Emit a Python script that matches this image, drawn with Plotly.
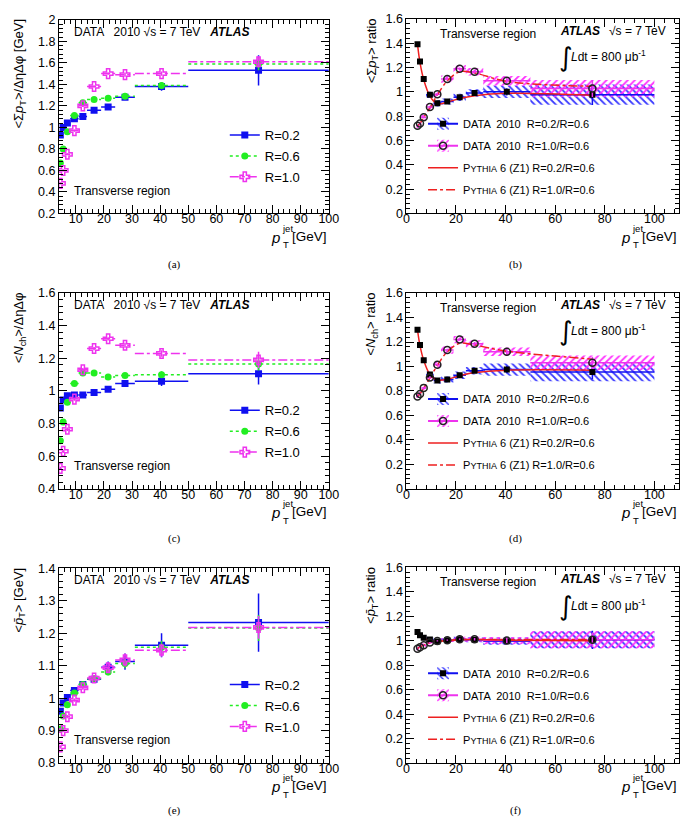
import plotly.graph_objects as go

W, H = 699, 833

# ---------------- data ----------------
BIN_EDGES = [4, 5, 6, 8, 11, 14, 19, 24, 31, 50, 100]
PT = [4.5, 5.5, 7, 9.5, 12.5, 16.5, 21.5, 27.5, 40.5, 75]

# (a) <sum pT>/deta dphi [GeV]
SUMPT_R02 = [0.93, 1.00, 1.04, 1.08, 1.10, 1.16, 1.19, 1.28, 1.38, 1.53]
SUMPT_R02_ERR = [0.01, 0.01, 0.01, 0.01, 0.01, 0.015, 0.02, 0.02, 0.04, 0.14]
SUMPT_R06 = [0.67, 0.80, 0.96, 1.11, 1.23, 1.26, 1.27, 1.29, 1.39, 1.59]
SUMPT_R06_ERR = [0.01, 0.01, 0.01, 0.01, 0.01, 0.01, 0.01, 0.02, 0.03, 0.06]
SUMPT_R10 = [0.48, 0.60, 0.75, 0.97, 1.20, 1.38, 1.50, 1.49, 1.50, 1.61]
SUMPT_R10_ERR = [0.01, 0.01, 0.01, 0.01, 0.01, 0.01, 0.01, 0.02, 0.02, 0.05]

# (c) <Nch>/deta dphi
NCH_R02 = [0.895, 0.945, 0.97, 0.975, 0.975, 0.99, 1.01, 1.045, 1.06, 1.105]
NCH_R02_ERR = [0.01, 0.01, 0.01, 0.01, 0.01, 0.01, 0.01, 0.02, 0.03, 0.065]
NCH_R06 = [0.695, 0.81, 0.93, 1.045, 1.11, 1.11, 1.085, 1.095, 1.10, 1.165]
NCH_R06_ERR = [0.01, 0.01, 0.01, 0.01, 0.01, 0.01, 0.01, 0.015, 0.02, 0.04]
NCH_R10 = [0.525, 0.63, 0.765, 0.95, 1.13, 1.26, 1.32, 1.28, 1.23, 1.19]
NCH_R10_ERR = [0.01, 0.01, 0.01, 0.01, 0.01, 0.01, 0.01, 0.015, 0.02, 0.05]

# (e) <mean pT> [GeV]
MPT_R02 = [0.96, 0.985, 1.002, 1.024, 1.042, 1.058, 1.095, 1.113, 1.163, 1.233]
MPT_R02_ERR = [0.005, 0.005, 0.005, 0.006, 0.006, 0.008, 0.018, 0.025, 0.037, 0.09]
MPT_R06 = [0.905, 0.945, 0.98, 1.016, 1.042, 1.06, 1.081, 1.107, 1.157, 1.216]
MPT_R06_ERR = [0.005, 0.005, 0.005, 0.005, 0.005, 0.006, 0.01, 0.015, 0.02, 0.04]
MPT_R10 = [0.85, 0.90, 0.943, 0.994, 1.032, 1.062, 1.094, 1.118, 1.148, 1.218]
MPT_R10_ERR = [0.005, 0.005, 0.005, 0.005, 0.006, 0.008, 0.015, 0.02, 0.02, 0.035]

# (b) <sum pT> ratios
RSUM_02 = [1.39, 1.25, 1.105, 0.975, 0.905, 0.92, 0.955, 0.99, 1.0, 0.976]
RSUM_02_STAT = [0.01, 0.01, 0.01, 0.01, 0.01, 0.01, 0.01, 0.015, 0.03, 0.085]
RSUM_02_SYST = [0.02, 0.02, 0.02, 0.025, 0.025, 0.025, 0.03, 0.03, 0.05, 0.083]
RSUM_10 = [0.72, 0.74, 0.79, 0.875, 0.98, 1.105, 1.19, 1.165, 1.09, 1.027]
RSUM_10_STAT = [0.01, 0.01, 0.01, 0.01, 0.01, 0.01, 0.01, 0.015, 0.03, 0.07]
RSUM_10_SYST = [0.02, 0.02, 0.02, 0.025, 0.025, 0.03, 0.03, 0.03, 0.04, 0.07]
PY_SUM_02 = [1.39, 1.24, 1.10, 0.965, 0.90, 0.915, 0.945, 0.968, 0.988, 0.972]
PY_SUM_10 = [0.72, 0.74, 0.79, 0.87, 0.975, 1.09, 1.165, 1.155, 1.085, 1.045]

# (d) <Nch> ratios
RNCH_02 = [1.30, 1.175, 1.05, 0.935, 0.885, 0.893, 0.928, 0.965, 0.975, 0.955]
RNCH_02_STAT = [0.01, 0.01, 0.01, 0.01, 0.01, 0.01, 0.01, 0.015, 0.03, 0.06]
RNCH_02_SYST = [0.02, 0.02, 0.02, 0.025, 0.025, 0.025, 0.03, 0.03, 0.05, 0.075]
RNCH_10 = [0.755, 0.775, 0.825, 0.91, 1.015, 1.135, 1.22, 1.185, 1.12, 1.03]
RNCH_10_STAT = [0.01, 0.01, 0.01, 0.01, 0.01, 0.01, 0.01, 0.015, 0.03, 0.05]
RNCH_10_SYST = [0.02, 0.02, 0.02, 0.025, 0.025, 0.03, 0.03, 0.03, 0.035, 0.06]
PY_NCH_02 = [1.30, 1.17, 1.05, 0.935, 0.89, 0.895, 0.925, 0.95, 0.97, 0.97]
PY_NCH_10 = [0.755, 0.775, 0.825, 0.905, 1.01, 1.12, 1.19, 1.175, 1.125, 1.06]

# (f) <mean pT> ratios
RMPT_02 = [1.072, 1.045, 1.024, 1.01, 0.995, 1.005, 1.013, 1.008, 0.997, 1.008]
RMPT_02_STAT = [0.005, 0.005, 0.005, 0.005, 0.005, 0.005, 0.005, 0.01, 0.02, 0.075]
RMPT_02_SYST = [0.015, 0.015, 0.015, 0.015, 0.015, 0.015, 0.02, 0.02, 0.03, 0.07]
RMPT_10 = [0.935, 0.948, 0.964, 0.986, 0.999, 1.005, 1.013, 1.013, 1.002, 1.008]
RMPT_10_STAT = [0.005, 0.005, 0.005, 0.005, 0.005, 0.005, 0.005, 0.01, 0.02, 0.06]
RMPT_10_SYST = [0.015, 0.015, 0.015, 0.015, 0.015, 0.015, 0.02, 0.02, 0.03, 0.07]
PY_MPT_02 = [1.07, 1.045, 1.022, 1.005, 0.995, 1.0, 1.008, 1.01, 1.005, 1.0]
PY_MPT_10 = [0.935, 0.95, 0.965, 0.985, 0.995, 1.005, 1.01, 1.012, 1.01, 1.01]

LEFT_YTITLES = ["&lt;Σ<i>p</i><sub>T</sub>&gt;/ΔηΔφ [GeV]",
                "&lt;<i>N</i><sub>ch</sub>&gt;/ΔηΔφ",
                "&lt;<i>p̄</i><sub>T</sub>&gt; [GeV]"]
RIGHT_YTITLES = ["&lt;Σ<i>p</i><sub>T</sub>&gt; ratio",
                 "&lt;<i>N</i><sub>ch</sub>&gt; ratio",
                 "&lt;<i>p̄</i><sub>T</sub>&gt; ratio"]
LEFT_YRANGES = [[0.2, 2.0], [0.4, 1.6], [0.8, 1.4]]
LEFT_YDTICK = [0.2, 0.2, 0.1]
LEFT_YMINOR = [0.04, 0.04, 0.02]
CAPTIONS = ["(a)", "(b)", "(c)", "(d)", "(e)", "(f)"]

# ---------------- style ----------------
BLUE = "#1010f0"
GREEN = "#22ee22"
MAGENTA = "#ee33ee"
RED = "#ee2020"
BAND_BLUE = "#3a3aff"
BAND_MAG = "#ff30ff"
FONT = "Liberation Sans"

# panel plot-area boxes in pixels: (left, right, top, bottom)
BOXES = [(57, 332, 13, 210), (411, 689, 12, 210),
         (57, 332, 291, 490), (411, 689, 291, 490),
         (57, 332, 571, 769), (411, 689, 570, 769)]


def fx(px):
    return px / W


def fy(py):
    return 1 - py / H


def segs(vals):
    xs, ys = [], []
    for lo, hi, v in zip(BIN_EDGES[:-1], BIN_EDGES[1:], vals):
        xs += [lo, hi, None]
        ys += [v, v, None]
    return xs, ys


fig = go.Figure()
annotations = []
layout = {}

axis_common = dict(showline=True, linecolor="black", linewidth=1, mirror="allticks",
                   ticks="inside", ticklen=8, tickwidth=1, tickcolor="black",
                   showgrid=False, zeroline=False,
                   tickfont=dict(family=FONT, size=12.5, color="black"))


def add_xtitle(right_px, cy):
    annotations.append(dict(x=fx(right_px), y=fy(cy), xref="paper", yref="paper",
                            text="[GeV]", showarrow=False, xanchor="right", yanchor="middle",
                            font=dict(family=FONT, size=13.5, color="black")))
    annotations.append(dict(x=fx(right_px - 48), y=fy(cy + 1), xref="paper", yref="paper",
                            text="<i>p</i>", showarrow=False, xanchor="right", yanchor="middle",
                            font=dict(family=FONT, size=15, color="black")))
    annotations.append(dict(x=fx(right_px - 50), y=fy(cy - 8), xref="paper", yref="paper",
                            text="jet", showarrow=False, xanchor="left", yanchor="middle",
                            font=dict(family=FONT, size=9.5, color="black")))
    annotations.append(dict(x=fx(right_px - 49), y=fy(cy + 9), xref="paper", yref="paper",
                            text="T", showarrow=False, xanchor="left", yanchor="middle",
                            font=dict(family=FONT, size=9.5, color="black")))


def txt(x, y, text, size=12, xanchor="left", yanchor="middle", family=FONT):
    annotations.append(dict(x=fx(x), y=fy(y), xref="paper", yref="paper", text=text,
                            showarrow=False, xanchor=xanchor, yanchor=yanchor,
                            font=dict(family=family, size=size, color="black")))


# ---------- left panels: absolute observables ----------
left_data = [
    (SUMPT_R02, SUMPT_R02_ERR, SUMPT_R06, SUMPT_R06_ERR, SUMPT_R10, SUMPT_R10_ERR),
    (NCH_R02, NCH_R02_ERR, NCH_R06, NCH_R06_ERR, NCH_R10, NCH_R10_ERR),
    (MPT_R02, MPT_R02_ERR, MPT_R06, MPT_R06_ERR, MPT_R10, MPT_R10_ERR),
]
left_style = [
    ("R=0.2", BLUE, "solid", dict(symbol="square", size=7, color=BLUE)),
    ("R=0.6", GREEN, "dot", dict(symbol="circle", size=7, color=GREEN)),
    ("R=1.0", MAGENTA, "dashdot", dict(symbol="cross-open", size=8, color=MAGENTA,
                                        line=dict(color=MAGENTA, width=1.5))),
]

for i, dat in enumerate(left_data):
    pidx = 2 * i + 1
    xa = "x" if pidx == 1 else f"x{pidx}"
    ya = "y" if pidx == 1 else f"y{pidx}"
    leg = "legend" if i == 0 else f"legend{i + 1}"
    l, r, t, b = BOXES[pidx - 1]
    for k, (name, col, dash, mk) in enumerate(left_style):
        vals, errs = dat[2 * k], dat[2 * k + 1]
        sx, sy = segs(vals)
        fig.add_trace(go.Scatter(x=sx, y=sy, mode="lines", line=dict(color=col, width=1.5, dash=dash),
                                 xaxis=xa, yaxis=ya, showlegend=False, hoverinfo="skip"))
        fig.add_trace(go.Scatter(x=PT, y=vals, mode="markers", marker=mk,
                                 error_y=dict(type="data", array=errs, color=col, thickness=1.5, width=0),
                                 xaxis=xa, yaxis=ya, showlegend=False))
        fig.add_trace(go.Scatter(x=[None], y=[None], mode="lines+markers", name=name,
                                 line=dict(color=col, width=1.5, dash=dash), marker=mk,
                                 xaxis=xa, yaxis=ya, legend=leg, legendgroup=f"L{i}{k}"))
    ax_key = "xaxis" if pidx == 1 else f"xaxis{pidx}"
    ay_key = "yaxis" if pidx == 1 else f"yaxis{pidx}"
    layout[ax_key] = dict(axis_common, domain=[fx(l), fx(r)], anchor=ya, range=[4, 100],
                          tick0=0, dtick=10, ticklabelstandoff=-6,
                          minor=dict(ticks="inside", ticklen=4, tickcolor="black", dtick=2, showgrid=False))
    layout[ay_key] = dict(axis_common, domain=[fy(b), fy(t)], anchor=xa, range=LEFT_YRANGES[i],
                          tick0=0, dtick=LEFT_YDTICK[i],
                          minor=dict(ticks="inside", ticklen=4, tickcolor="black",
                                     dtick=LEFT_YMINOR[i], showgrid=False))
    layout[leg] = dict(x=fx(226), y=fy(b - 95), xanchor="left", yanchor="top",
                       bgcolor="rgba(0,0,0,0)", borderwidth=0, traceorder="grouped",
                       tracegroupgap=1, font=dict(family=FONT, size=13, color="black"))
    txt(70, t + 12, "DATA   2010 √s = 7 TeV   <b><i>ATLAS</i></b>")
    txt(70, b - 23, "Transverse region")
    annotations.append(dict(x=fx(17), y=fy(t - 3), xref="paper", yref="paper",
                            text=LEFT_YTITLES[i], textangle=-90, showarrow=False,
                            xanchor="center", yanchor="top",
                            font=dict(family=FONT, size=13, color="black")))
    add_xtitle(r, b + 23)

# ---------- right panels: ratios ----------
right_data = [
    (RSUM_02, RSUM_02_STAT, RSUM_02_SYST, RSUM_10, RSUM_10_STAT, RSUM_10_SYST, PY_SUM_02, PY_SUM_10),
    (RNCH_02, RNCH_02_STAT, RNCH_02_SYST, RNCH_10, RNCH_10_STAT, RNCH_10_SYST, PY_NCH_02, PY_NCH_10),
    (RMPT_02, RMPT_02_STAT, RMPT_02_SYST, RMPT_10, RMPT_10_STAT, RMPT_10_SYST, PY_MPT_02, PY_MPT_10),
]
centers = [(lo + hi) / 2 for lo, hi in zip(BIN_EDGES[:-1], BIN_EDGES[1:])]
widths = [hi - lo for lo, hi in zip(BIN_EDGES[:-1], BIN_EDGES[1:])]
PYNAME = "P<span style='font-size:9px'>YTHIA</span> 6 (Z1) "

for i, dat in enumerate(right_data):
    pidx = 2 * i + 2
    xa, ya = f"x{pidx}", f"y{pidx}"
    legA, legB = f"legend{4 + 2 * i}", f"legend{5 + 2 * i}"
    l, r, t, b = BOXES[pidx - 1]
    r02, s02, y02, r10, s10, y10, p02, p10 = dat
    series = [
        (r02, s02, y02, BAND_BLUE, BLUE, "\\", dict(symbol="square", size=6, color="black"),
         "DATA  2010  R=0.2/R=0.6"),
        (r10, s10, y10, BAND_MAG, MAGENTA, "/", dict(symbol="circle-open", size=7, color="#222222",
                                                      line=dict(color="#222222", width=1.5)),
         "DATA  2010  R=1.0/R=0.6"),
    ]
    # systematic bands first
    for k, (vals, st, sy_, bcol, lcol, shp, mk, name) in enumerate(series):
        fig.add_trace(go.Bar(x=centers, y=[2 * s for s in sy_], base=[v - s for v, s in zip(vals, sy_)],
                             width=widths, name=" ",
                             marker=dict(color="rgba(0,0,0,0)", line=dict(width=0),
                                         pattern=dict(shape=shp, fgcolor=bcol, bgcolor="rgba(0,0,0,0)",
                                                      size=5, solidity=0.35, fillmode="replace")),
                             xaxis=xa, yaxis=ya, legend=legB, legendgroup=f"B{i}{k}", hoverinfo="skip"))
    for k, (vals, st, sy_, bcol, lcol, shp, mk, name) in enumerate(series):
        sx, syy = segs(vals)
        fig.add_trace(go.Scatter(x=sx, y=syy, mode="lines", line=dict(color=lcol, width=1.5),
                                 xaxis=xa, yaxis=ya, showlegend=False, hoverinfo="skip"))
    # pythia curves
    fig.add_trace(go.Scatter(x=PT, y=p02, mode="lines", line=dict(color=RED, width=1.5, shape="spline"),
                             xaxis=xa, yaxis=ya, showlegend=False))
    fig.add_trace(go.Scatter(x=PT, y=p10, mode="lines",
                             line=dict(color=RED, width=1.5, shape="spline", dash="dashdot"),
                             xaxis=xa, yaxis=ya, showlegend=False))
    for k, (vals, st, sy_, bcol, lcol, shp, mk, name) in enumerate(series):
        fig.add_trace(go.Scatter(x=PT, y=vals, mode="markers", marker=mk,
                                 error_y=dict(type="data", array=st, color=lcol, thickness=1.5, width=0),
                                 xaxis=xa, yaxis=ya, showlegend=False))
    # legend entries
    for k, (vals, st, sy_, bcol, lcol, shp, mk, name) in enumerate(series):
        fig.add_trace(go.Scatter(x=[None], y=[None], mode="lines+markers", name=name,
                                 line=dict(color=lcol, width=2), marker=mk,
                                 xaxis=xa, yaxis=ya, legend=legA, legendgroup=f"A{i}{k}"))
    fig.add_trace(go.Scatter(x=[None], y=[None], mode="lines", name=PYNAME + "R=0.2/R=0.6",
                             line=dict(color=RED, width=1.5), xaxis=xa, yaxis=ya,
                             legend=legA, legendgroup=f"A{i}2"))
    fig.add_trace(go.Scatter(x=[None], y=[None], mode="lines", name=PYNAME + "R=1.0/R=0.6",
                             line=dict(color=RED, width=1.5, dash="dashdot"), xaxis=xa, yaxis=ya,
                             legend=legA, legendgroup=f"A{i}3"))
    layout[f"xaxis{pidx}"] = dict(axis_common, domain=[fx(l), fx(r)], anchor=ya, range=[0, 110],
                                  tick0=0, dtick=20, ticklabelstandoff=-6,
                                  minor=dict(ticks="inside", ticklen=4, tickcolor="black", dtick=4,
                                             showgrid=False))
    layout[f"yaxis{pidx}"] = dict(axis_common, domain=[fy(b), fy(t)], anchor=xa, range=[0, 1.6],
                                  tick0=0, dtick=0.2,
                                  minor=dict(ticks="inside", ticklen=4, tickcolor="black", dtick=0.04,
                                             showgrid=False))
    for lg in (legA, legB):
        layout[lg] = dict(x=fx(428), y=fy(b - 106), xanchor="left", yanchor="top",
                          bgcolor="rgba(0,0,0,0)", borderwidth=0, traceorder="grouped",
                          tracegroupgap=3, font=dict(family=FONT, size=11, color="black"))
    txt(443, t + 15, "Transverse region")
    txt(566, t + 12, "<b><i>ATLAS</i></b>")
    txt(615, t + 12, "√s = 7 TeV")
    txt(565, t + 39, "∫", size=26, family="DejaVu Sans")
    txt(577, t + 38, "<i>L</i>dt = 800 μb<sup>-1</sup>")
    annotations.append(dict(x=fx(376), y=fy(t - 2), xref="paper", yref="paper",
                            text=RIGHT_YTITLES[i], textangle=-90, showarrow=False,
                            xanchor="center", yanchor="top",
                            font=dict(family=FONT, size=13, color="black")))
    add_xtitle(r, b + 23)

# captions
for j, cap in enumerate(CAPTIONS):
    cx = 175 if j % 2 == 0 else 522
    cy = [262, 262, 541, 541, 817, 817][j]
    txt(cx, cy, cap, size=11, xanchor="center", family="Liberation Serif")

fig.update_layout(width=W, height=H, margin=dict(l=0, r=0, t=0, b=0), autosize=False,
                  paper_bgcolor="white", plot_bgcolor="white", barmode="overlay",
                  annotations=annotations, **layout)

fig.write_html("out.html")
